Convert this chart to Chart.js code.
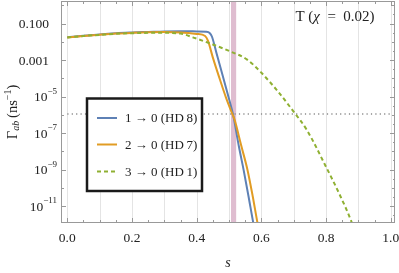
<!DOCTYPE html>
<html><head><meta charset="utf-8">
<script src="https://cdn.jsdelivr.net/npm/chart.js@4/dist/chart.umd.min.js"></script>
<style>html,body{margin:0;padding:0;background:#fff;}#wrap{width:399px;height:273px;position:relative;}</style>
</head><body><div id="wrap"><canvas id="c" width="399" height="273"></canvas></div>
<script>
// ---- data ----
const sBlue   = [0, 0.05, 0.1, 0.15, 0.2, 0.25, 0.3, 0.35, 0.4, 0.43, 0.44, 0.447, 0.46, 0.48, 0.5, 0.512, 0.53, 0.545, 0.56, 0.575, 0.59];
const rateBlue = [1.78e-2, 2.14e-2, 2.51e-2, 2.95e-2, 3.24e-2, 3.47e-2, 3.72e-2, 3.80e-2, 3.72e-2, 3.55e-2, 3.02e-2, 1.95e-2, 2.88e-3, 1.48e-4, 7.24e-6, 1.12e-6, 2.0e-8, 9.5e-10, 3.55e-11, 1.17e-12, 6.3e-14];

const sOrange   = [0, 0.05, 0.1, 0.15, 0.2, 0.25, 0.3, 0.35, 0.4, 0.426, 0.435, 0.45, 0.472, 0.49, 0.51, 0.517, 0.537, 0.557, 0.573, 0.588, 0.6];
const rateOrange = [1.74e-2, 2.09e-2, 2.45e-2, 2.82e-2, 3.09e-2, 3.31e-2, 3.39e-2, 3.24e-2, 2.69e-2, 2.09e-2, 1.12e-2, 1.35e-3, 8.3e-5, 9.3e-6, 1.12e-6, 5.4e-7, 2.24e-8, 9.5e-10, 3.55e-11, 1.17e-12, 1.26e-13];

const sGreen   = [0, 0.05, 0.1, 0.15, 0.2, 0.25, 0.3, 0.35, 0.39, 0.42, 0.45, 0.5, 0.556, 0.6, 0.65, 0.7, 0.74, 0.8, 0.84, 0.88, 0.9];
const rateGreen = [1.74e-2, 2.09e-2, 2.40e-2, 2.75e-2, 2.95e-2, 3.09e-2, 3.09e-2, 2.82e-2, 1.70e-2, 1.12e-2, 7.1e-3, 3.16e-3, 1.05e-3, 2.0e-4, 2.0e-5, 1.45e-6, 1.51e-7, 1.38e-9, 5.0e-11, 1.17e-12, 1.0e-13];

const seriesLabels = ['1 \u2192 0 (HD\u20098)', '2 \u2192 0 (HD\u20097)', '3 \u2192 0 (HD\u20091)'];
const seriesColors = ['#5e81b5', '#e19c24', '#8fb032'];

const thresholdS = [0, 1];
const thresholdRate = [1.1e-6, 1.1e-6];
const bandS = [0.506, 0.522];

const xTickValues = [0, 0.2, 0.4, 0.6, 0.8, 1.0];
const xTickLabels = ['0.0', '0.2', '0.4', '0.6', '0.8', '1.0'];
const yTickValues = [1e-1, 1e-3, 1e-5, 1e-7, 1e-9, 1e-11];
const yTickBase = ['0.100', '0.001', '10', '10', '10', '10'];
const yTickExp  = ['', '', '\u22125', '\u22127', '\u22129', '\u221211'];
const xTitle = 's';
const panelTitle = ['T (', '\u03c7', '\u2002=\u20020.02)'];

const toPts = (xs, ys) => xs.map((x, i) => ({x: x, y: ys[i]}));
const SERIF = '"Liberation Serif", "DejaVu Serif", serif';
const TXT = '#222';

const decor = {
  id: 'decor',
  beforeDatasetsDraw(chart) {
    const {ctx, chartArea: a, scales: {x, y}} = chart;
    ctx.save();
    ctx.strokeStyle = '#e4e4e4'; ctx.lineWidth = 1;
    for (let k = 0; k <= 10; k++) {
      const px = Math.round(x.getPixelForValue(k / 10)) + 0.5;
      ctx.beginPath(); ctx.moveTo(px, a.top); ctx.lineTo(px, a.bottom); ctx.stroke();
    }
    const b0 = x.getPixelForValue(bandS[0]), b1 = x.getPixelForValue(bandS[1]);
    ctx.fillStyle = '#dfbdd0';
    ctx.fillRect(b0, a.top, b1 - b0, a.bottom - a.top);
    ctx.restore();
  },
  afterDraw(chart) {
    const {ctx, chartArea: a, scales: {x, y}} = chart;
    ctx.save();
    ctx.strokeStyle = '#999'; ctx.lineWidth = 1;
    ctx.strokeRect(a.left + 0.5, a.top + 0.5, a.right - a.left - 1, a.bottom - a.top - 1);
    for (let k = 0; k <= 20; k++) {
      const v = k * 0.05;
      const px = Math.round(x.getPixelForValue(v)) + 0.5;
      const len = (k % 4 === 0) ? 5 : 3;
      ctx.beginPath(); ctx.moveTo(px, a.bottom); ctx.lineTo(px, a.bottom - len); ctx.stroke();
      ctx.beginPath(); ctx.moveTo(px, a.top); ctx.lineTo(px, a.top + len); ctx.stroke();
    }
    for (let e = 0; e >= -11; e--) {
      const py = Math.round(y.getPixelForValue(Math.pow(10, e))) + 0.5;
      const len = (e % 2 !== 0) ? 5 : 3;
      ctx.beginPath(); ctx.moveTo(a.left, py); ctx.lineTo(a.left + len, py); ctx.stroke();
      ctx.beginPath(); ctx.moveTo(a.right, py); ctx.lineTo(a.right - len, py); ctx.stroke();
      const pm = Math.round(y.getPixelForValue(Math.pow(10, e - 0.5))) + 0.5;
      if (pm < a.bottom) {
        ctx.beginPath(); ctx.moveTo(a.right, pm); ctx.lineTo(a.right - 2, pm); ctx.stroke();
      }
    }
    ctx.fillStyle = TXT;
    ctx.font = '13.5px ' + SERIF;
    ctx.textAlign = 'center'; ctx.textBaseline = 'middle';
    xTickValues.forEach((v, i) => ctx.fillText(xTickLabels[i], x.getPixelForValue(v), 238));
    yTickValues.forEach((v, i) => {
      const py = y.getPixelForValue(v);
      ctx.font = '9px ' + SERIF;
      const ew = yTickExp[i] ? ctx.measureText(yTickExp[i]).width : 0;
      const right = 57;
      ctx.textAlign = 'right'; ctx.textBaseline = 'middle';
      if (yTickExp[i]) ctx.fillText(yTickExp[i], right, py - 5);
      ctx.font = '13.5px ' + SERIF;
      ctx.fillText(yTickBase[i], yTickExp[i] ? right - ew : 49, py + 1);
    });
    ctx.font = 'italic 14px ' + SERIF; ctx.textAlign = 'center';
    ctx.fillText(xTitle, (a.left + a.right) / 2, 263);
    ctx.save();
    ctx.translate(13, (a.top + a.bottom) / 2);
    ctx.rotate(-Math.PI / 2);
    const parts = [
      {t: '\u0393', f: '14.5px ' + SERIF, dy: 0},
      {t: 'ab', f: 'italic 10px ' + SERIF, dy: 3},
      {t: '\u2009(ns', f: '14.5px ' + SERIF, dy: 0},
      {t: '\u22121', f: '10px ' + SERIF, dy: -5},
      {t: ')', f: '14.5px ' + SERIF, dy: 0}
    ];
    let tw = 0;
    parts.forEach(p => { ctx.font = p.f; p.w = ctx.measureText(p.t).width; tw += p.w; });
    let cx = -tw / 2;
    ctx.textAlign = 'left'; ctx.textBaseline = 'middle';
    parts.forEach(p => { ctx.font = p.f; ctx.fillText(p.t, cx, p.dy); cx += p.w; });
    ctx.restore();
    const tp = [
      {t: panelTitle[0], f: '15px ' + SERIF},
      {t: panelTitle[1], f: 'italic 15px ' + SERIF},
      {t: panelTitle[2], f: '15px ' + SERIF}
    ];
    let pw = 0;
    tp.forEach(p => { ctx.font = p.f; p.w = ctx.measureText(p.t).width; pw += p.w; });
    let px = 335 - pw / 2;
    ctx.textAlign = 'left';
    tp.forEach(p => { ctx.font = p.f; ctx.fillText(p.t, px, 17); px += p.w; });
    ctx.fillStyle = '#fff';
    ctx.fillRect(87, 98.5, 115, 92.5);
    ctx.strokeStyle = '#1a1a1a'; ctx.lineWidth = 2.5;
    ctx.strokeRect(87, 98.5, 115, 92.5);
    const rows = [118, 144.5, 171.5];
    seriesLabels.forEach((lab, i) => {
      ctx.strokeStyle = seriesColors[i]; ctx.lineWidth = 2;
      ctx.setLineDash(i === 2 ? [4, 3] : []);
      ctx.beginPath(); ctx.moveTo(97, rows[i]); ctx.lineTo(117, rows[i]); ctx.stroke();
      ctx.setLineDash([]);
      ctx.fillStyle = TXT; ctx.font = '13px ' + SERIF;
      ctx.textAlign = 'left'; ctx.textBaseline = 'middle';
      ctx.fillText(lab, 125, rows[i] + 1);
    });
    ctx.restore();
  }
};

new Chart(document.getElementById('c'), {
  type: 'line',
  data: {
    datasets: [
      {label: 'threshold', data: toPts(thresholdS, thresholdRate), borderColor: '#8a8a8a', borderWidth: 1.3, borderDash: [1.2, 3.2], pointRadius: 0, order: 4},
      {label: seriesLabels[0], data: toPts(sBlue, rateBlue), borderColor: seriesColors[0], borderWidth: 2, pointRadius: 0, cubicInterpolationMode: 'monotone', order: 3},
      {label: seriesLabels[1], data: toPts(sOrange, rateOrange), borderColor: seriesColors[1], borderWidth: 2, pointRadius: 0, cubicInterpolationMode: 'monotone', order: 2},
      {label: seriesLabels[2], data: toPts(sGreen, rateGreen), borderColor: seriesColors[2], borderWidth: 2, borderDash: [4, 3], pointRadius: 0, cubicInterpolationMode: 'monotone', order: 1}
    ]
  },
  options: {
    responsive: false, animation: false, devicePixelRatio: 1,
    layout: {padding: {top: 1, right: 4, left: 0, bottom: 0}},
    plugins: {legend: {display: false}, tooltip: {enabled: false}},
    scales: {
      x: {type: 'linear', min: -0.0195, max: 1.013, ticks: {display: false}, grid: {display: false}, border: {display: false},
          afterFit: s => { s.height = 50; }},
      y: {type: 'logarithmic', min: 1.17e-12, max: 1.72, ticks: {display: false}, grid: {display: false}, border: {display: false},
          afterFit: s => { s.width = 61; }}
    }
  },
  plugins: [decor]
});
</script></body></html>
